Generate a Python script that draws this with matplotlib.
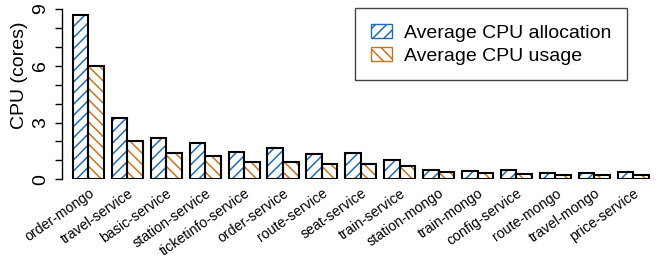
import numpy as np
import matplotlib
matplotlib.use("Agg")
import matplotlib.pyplot as plt
from matplotlib.patches import Patch

plt.rcParams["font.family"] = ["Liberation Sans", "DejaVu Sans"]
plt.rcParams["hatch.linewidth"] = 1.1

# 数据
services = ["order-mongo", "travel-service", "basic-service", "station-service",
            "ticketinfo-service", "order-service", "route-service", "seat-service",
            "train-service", "station-mongo", "train-mongo", "config-service",
            "route-mongo", "travel-mongo", "price-service"]
cpu_alloc = [8.68, 3.22, 2.17, 1.93, 1.46, 1.67, 1.35, 1.39, 1.04,
             0.49, 0.45, 0.49, 0.33, 0.32, 0.37]
cpu_usage = [6.0, 2.04, 1.37, 1.25, 0.90, 0.90, 0.83, 0.79, 0.69,
             0.37, 0.32, 0.30, 0.25, 0.23, 0.21]

BLUE = "#1f6db5"
ORANGE = "#c8741f"

fig = plt.figure(figsize=(6.67, 2.62), dpi=100)
ax = fig.add_axes([62 / 667, (262 - 179.3) / 262, (655 - 62) / 667, 170.3 / 262])

n = len(services)
pitch = 2.5
x0 = np.arange(n) * pitch + 0.5
x1 = x0 + 1.0

# 填充 + 斜线（彩色），再描黑边
ax.bar(x0, cpu_alloc, width=1.0, align="edge", facecolor="white",
       edgecolor=BLUE, hatch="///", linewidth=0)
ax.bar(x1, cpu_usage, width=1.0, align="edge", facecolor="white",
       edgecolor=ORANGE, hatch="\\\\\\", linewidth=0)
ax.bar(x0, cpu_alloc, width=1.0, align="edge", fill=False,
       edgecolor="black", linewidth=1.5)
ax.bar(x1, cpu_usage, width=1.0, align="edge", fill=False,
       edgecolor="black", linewidth=1.5)

ax.set_xlim(-0.2, x1[-1] + 1.0 + 0.4)
ax.set_ylim(0, 9)

for s in ["top", "right", "bottom"]:
    ax.spines[s].set_visible(False)
ax.spines["left"].set_linewidth(1.0)

ax.set_yticks([0, 3, 6, 9])
ax.set_yticks(np.arange(0, 10), minor=True)
ax.tick_params(axis="y", which="both", length=5, width=1.0)
ax.tick_params(axis="y", which="major", labelsize=14, pad=4)
for lab in ax.get_yticklabels():
    lab.set_rotation(90)
    lab.set_va("center")
ax.set_ylabel("CPU (cores)", fontsize=14)
ax.yaxis.set_label_coords(-0.057, 0.61)

ax.set_xticks(x1)
ax.set_xticklabels(services, rotation=35, ha="right", rotation_mode="anchor",
                   fontsize=10.2)
ax.tick_params(axis="x", length=0, pad=5)

handles = [
    Patch(facecolor="white", edgecolor=BLUE, hatch="///", linewidth=1.0,
          label="Average CPU allocation"),
    Patch(facecolor="white", edgecolor=ORANGE, hatch="\\\\\\", linewidth=1.0,
          label="Average CPU usage"),
]
leg = ax.legend(handles=handles, loc="upper right", bbox_to_anchor=(627 / 667, 1 - 8 / 262),
                bbox_transform=fig.transFigure, fontsize=14, fancybox=False,
                edgecolor="#444444", framealpha=1, handlelength=1.1, handleheight=0.8,
                handletextpad=0.6, labelspacing=0.25, borderpad=0.8,
                borderaxespad=0)
leg.get_frame().set_linewidth(1.0)

fig.savefig("out.png", dpi=100)
